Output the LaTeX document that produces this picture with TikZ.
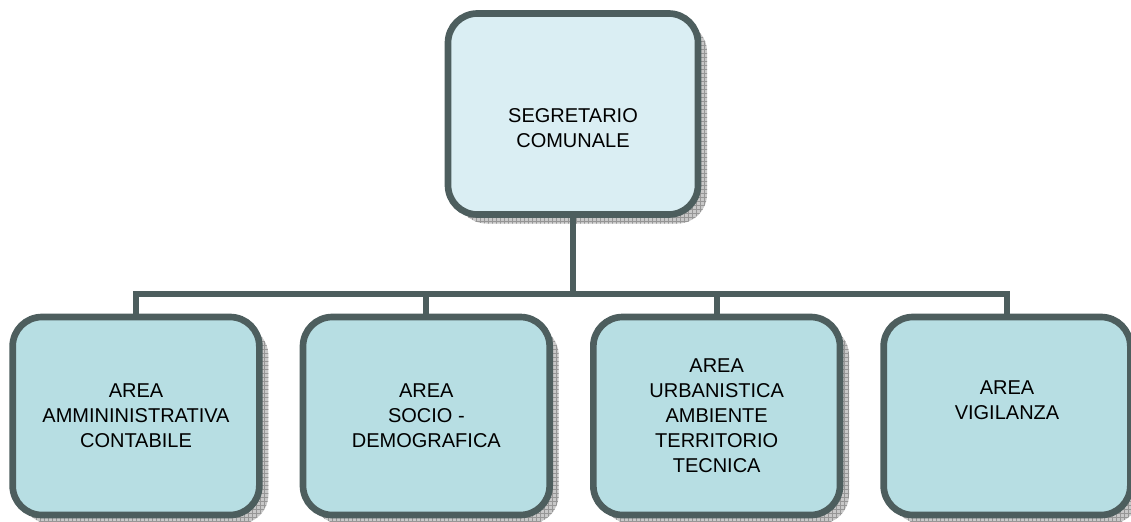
\documentclass[tikz,border=0pt]{standalone}
\usepackage{fontspec}
\setmainfont{Liberation Sans}
\usetikzlibrary{positioning, shadows, patterns}
\definecolor{unitline}{RGB}{77,94,94}
\definecolor{topfill}{RGB}{218,238,243}
\definecolor{areafill}{RGB}{183,222,227}
\definecolor{shadowgray}{RGB}{200,200,200}
\definecolor{gridgray}{RGB}{150,150,150}

\tikzset{
    unit/.style={draw=unitline, line width=5pt, rounded corners=22pt,
        minimum width=185pt, minimum height=148.5pt, align=center,
        inner sep=0pt, font=\fontsize{15pt}{18.75pt}\selectfont,
        general shadow={shadow xshift=6.75pt, shadow yshift=-6.75pt, fill=shadowgray},
        general shadow={shadow xshift=6.75pt, shadow yshift=-6.75pt, pattern=grid, pattern color=gridgray}},
    head/.style={unit, fill=topfill, minimum width=187.5pt, minimum height=150.75pt},
    area/.style={unit, fill=areafill},
    link/.style={draw=unitline, line width=4.5pt, line join=miter}
}

\begin{document}
\begin{tikzpicture}[x=0.75pt, y=-0.75pt, node distance=27.75pt]
        \useasboundingbox (0,0) rectangle (1131,521);
        \node[head] (seg) at (573,114) {\strut\\SEGRETARIO\\COMUNALE};
        \node[area] (amm) at (136,416) {AREA\\AMMININISTRATIVA\\CONTABILE};
        \node[area, right = of amm] (soc) {AREA\\SOCIO -\\DEMOGRAFICA};
        \node[area, right = of soc] (urb) {AREA\\URBANISTICA\\AMBIENTE\\TERRITORIO\\TECNICA};
        \node[area, right = of urb] (vig) {AREA\\VIGILANZA\\\strut};
        \path (seg.south) ++(0,76.5) coordinate (bus);
        \draw[link] (seg.south) -- (bus);
        \draw[link] (amm.north) -- (amm.north |- bus) -- (vig.north |- bus) -- (vig.north);
        \draw[link] (soc.north) -- (soc.north |- bus);
        \draw[link] (urb.north) -- (urb.north |- bus);
    \end{tikzpicture}
\end{document}
